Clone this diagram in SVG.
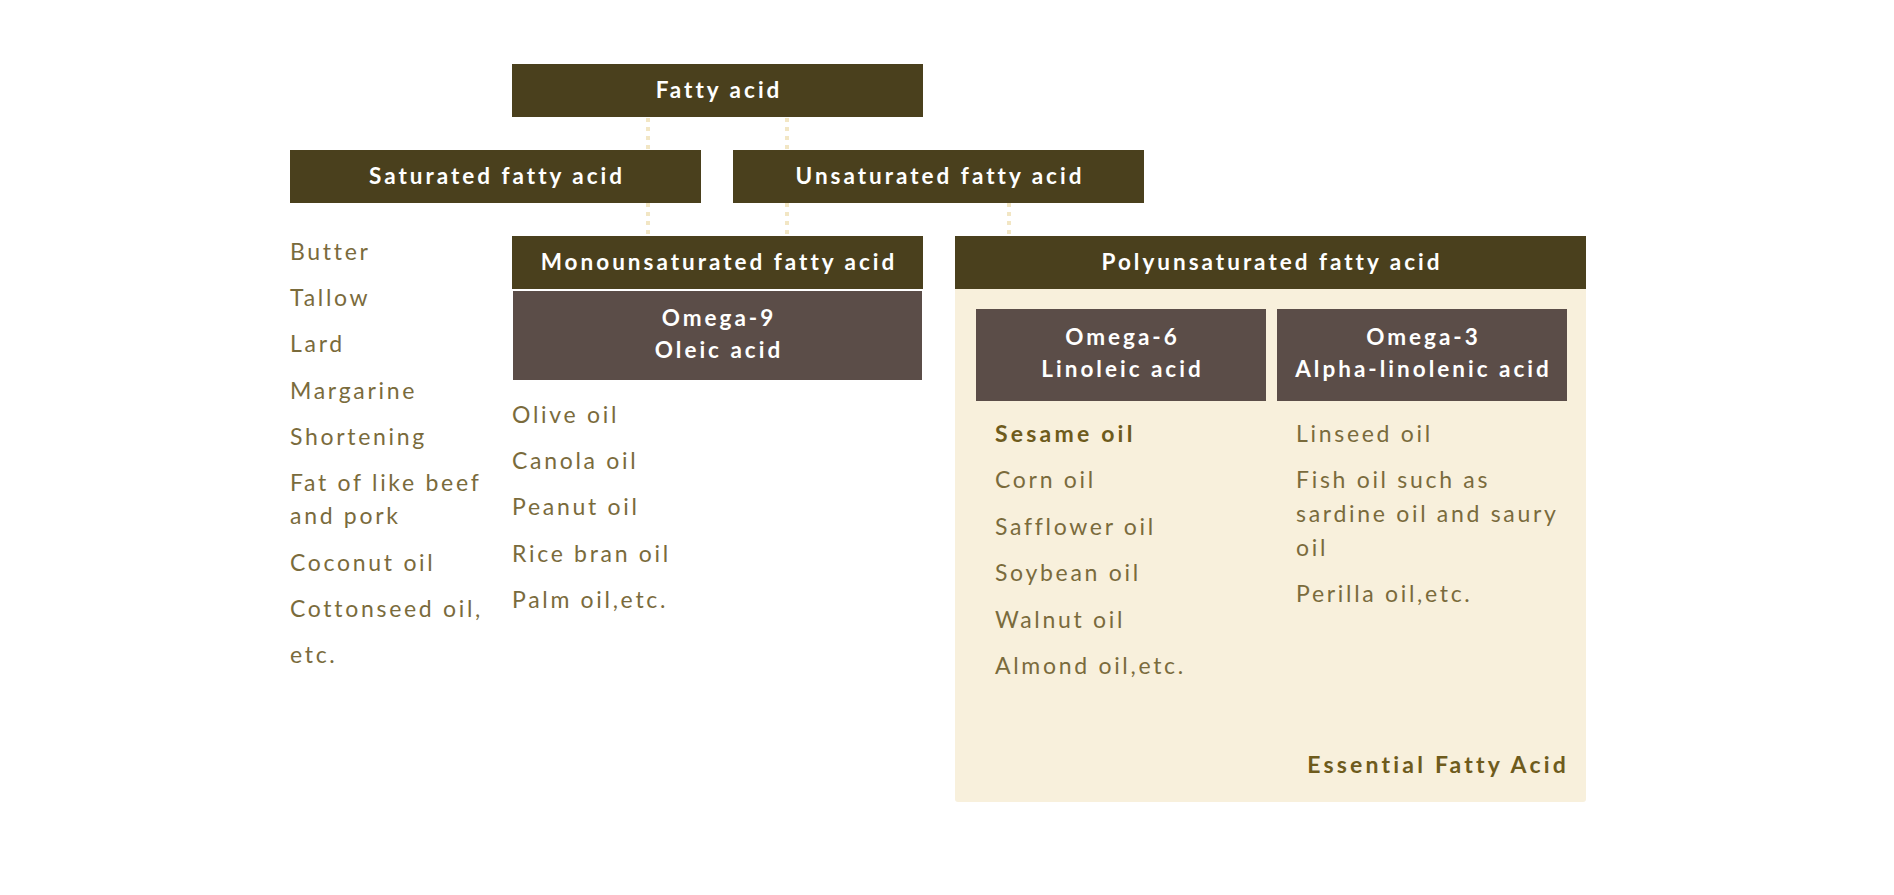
<svg xmlns="http://www.w3.org/2000/svg" width="1894" height="895" viewBox="0 0 1894 895">
<style>
.hd{fill:#4a401d}
.om{fill:#5b4d48}
.ht{font-family:Lato,"Noto Sans",sans-serif;font-weight:700;font-size:22.5px;fill:#ffffff;text-anchor:middle;letter-spacing:3px}
.li{font-family:Lato,"Noto Sans",sans-serif;font-size:23px;fill:#7a6b3c;letter-spacing:2.7px}
.lb{font-family:Lato,"Noto Sans",sans-serif;font-size:23px;font-weight:700;fill:#6e5b1c;letter-spacing:3.2px}
.cn{stroke:#f2e6c4;stroke-width:4;stroke-dasharray:4 5;fill:none}
</style>
<rect width="1894" height="895" fill="#ffffff"/>
<g id="connectors">
<line class="cn" x1="648" y1="118" x2="648" y2="150"/>
<line class="cn" x1="787" y1="118" x2="787" y2="150"/>
<line class="cn" x1="648" y1="203" x2="648" y2="236"/>
<line class="cn" x1="787" y1="203" x2="787" y2="236"/>
<line class="cn" x1="1009" y1="203" x2="1009" y2="236"/>
</g>
<g id="fatty-acid">
<rect class="hd" x="512" y="64" width="411" height="53"/>
<text class="ht" x="719" y="98">Fatty acid</text>
</g>
<g id="saturated">
<rect class="hd" x="290" y="150" width="411" height="53"/>
<text class="ht" x="497" y="184">Saturated fatty acid</text>
<text class="li" x="290" y="260">Butter</text>
<text class="li" x="290" y="306">Tallow</text>
<text class="li" x="290" y="352">Lard</text>
<text class="li" x="290" y="399">Margarine</text>
<text class="li" x="290" y="445">Shortening</text>
<text class="li" x="290" y="491">Fat of like beef</text>
<text class="li" x="290" y="524">and pork</text>
<text class="li" x="290" y="571">Coconut oil</text>
<text class="li" x="290" y="617">Cottonseed oil,</text>
<text class="li" x="290" y="663">etc.</text>
</g>
<g id="unsaturated">
<rect class="hd" x="733" y="150" width="411" height="53"/>
<text class="ht" x="940" y="184">Unsaturated fatty acid</text>
</g>
<g id="monounsaturated">
<rect class="hd" x="512" y="236" width="411" height="53"/>
<text class="ht" x="719" y="270">Monounsaturated fatty acid</text>
</g>
<g id="omega-9">
<rect class="om" x="513" y="291" width="409" height="89"/>
<text class="ht" x="719" y="326">Omega-9</text>
<text class="ht" x="719" y="358">Oleic acid</text>
<text class="li" x="512" y="423">Olive oil</text>
<text class="li" x="512" y="469">Canola oil</text>
<text class="li" x="512" y="515">Peanut oil</text>
<text class="li" x="512" y="562">Rice bran oil</text>
<text class="li" x="512" y="608">Palm oil,etc.</text>
</g>
<g id="polyunsaturated">
<rect x="955" y="236" width="631" height="566" rx="3" fill="#f8f0dc"/>
<rect class="hd" x="955" y="236" width="631" height="53"/>
<text class="ht" x="1272" y="270">Polyunsaturated fatty acid</text>
<text class="lb" x="1569" y="773" text-anchor="end">Essential Fatty Acid</text>
</g>
<g id="omega-6">
<rect class="om" x="976" y="309" width="290" height="92"/>
<text class="ht" x="1122.5" y="345">Omega-6</text>
<text class="ht" x="1122.5" y="377">Linoleic acid</text>
<text class="lb" x="995" y="442">Sesame oil</text>
<text class="li" x="995" y="488">Corn oil</text>
<text class="li" x="995" y="535">Safflower oil</text>
<text class="li" x="995" y="581">Soybean oil</text>
<text class="li" x="995" y="628">Walnut oil</text>
<text class="li" x="995" y="674">Almond oil,etc.</text>
</g>
<g id="omega-3">
<rect class="om" x="1277" y="309" width="290" height="92"/>
<text class="ht" x="1423.5" y="345">Omega-3</text>
<text class="ht" x="1423.5" y="377">Alpha-linolenic acid</text>
<text class="li" x="1296" y="442">Linseed oil</text>
<text class="li" x="1296" y="488">Fish oil such as</text>
<text class="li" x="1296" y="522">sardine oil and saury</text>
<text class="li" x="1296" y="556">oil</text>
<text class="li" x="1296" y="602">Perilla oil,etc.</text>
</g>
</svg>
